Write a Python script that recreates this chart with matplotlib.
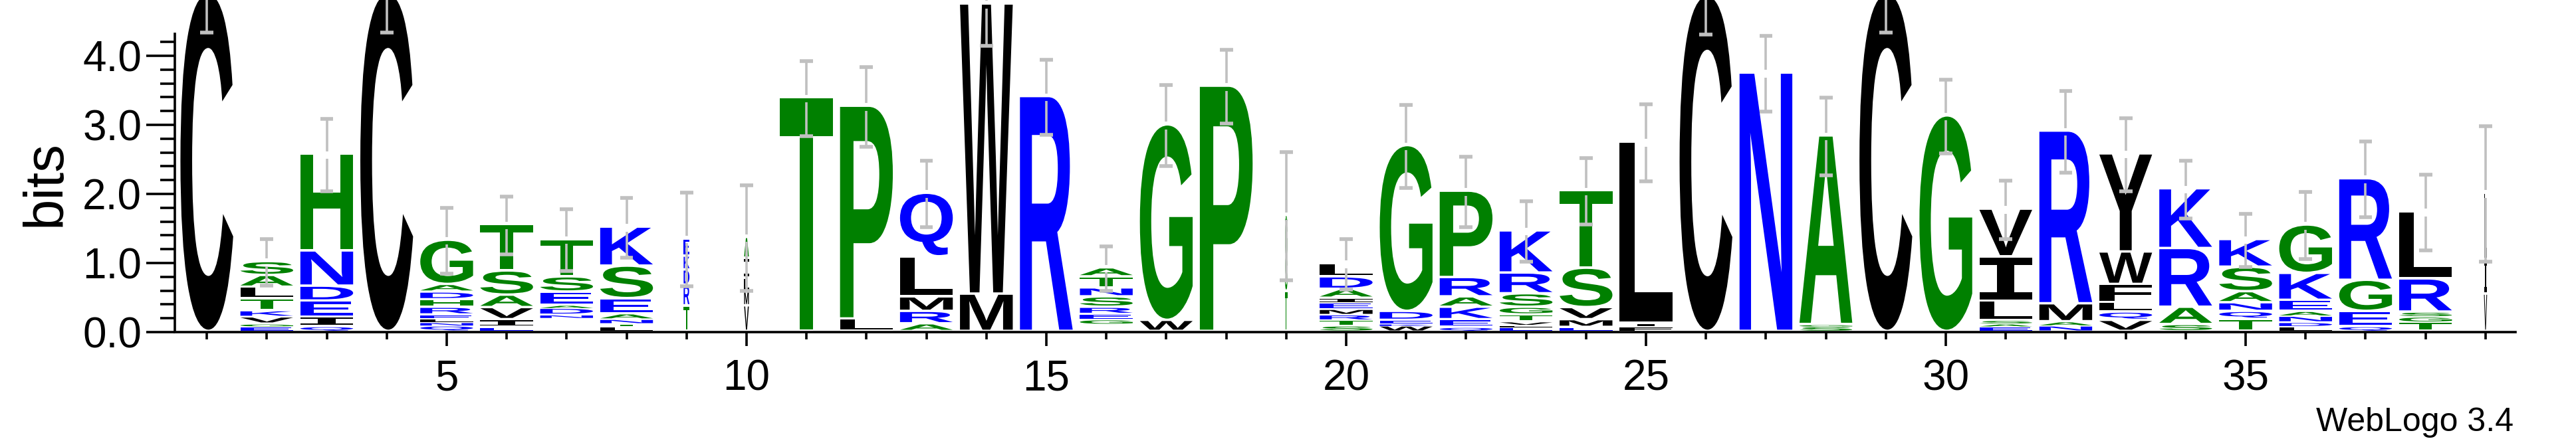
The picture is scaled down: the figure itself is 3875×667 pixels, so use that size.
import numpy as np
import matplotlib
matplotlib.use("Agg")
import matplotlib.pyplot as plt
from matplotlib.textpath import TextPath
from matplotlib.patches import PathPatch
from matplotlib.font_manager import FontProperties
from matplotlib.transforms import Affine2D

# sequence logo data: letters bottom -> top, heights in bits ('-' = empty gap)
positions = list(range(1, 40))
stack_letters = [
    "C", "EGVKTLAS", "QIEDNH", "C", "QNLERHDAG", "EIVAST", "-NDAEST", "LTNAESK",
    "TRDKE", "VMLIA", "T", "LP", "ARMLQ", "MW", "R", "-GERSNTA", "WG", "P",
    "TSGA", "STRMEIADL", "WKEDG", "QEKARP", "ELVTGSRK", "EMVST", "FIL", "C",
    "N", "SGA", "C", "G", "EASLIV", "NAMR", "VQLFWY", "SARK", "TQNASK",
    "LDNAEKG", "QEGR", "TGSRL", "VIL",
]
stack_heights = [
    [4.89],
    [0.07, 0.04, 0.10, 0.09, 0.17, 0.17, 0.17, 0.20],
    [0.07, 0.14, 0.23, 0.215, 0.51, 1.40],
    [4.89],
    [0.08, 0.05, 0.05, 0.06, 0.11, 0.11, 0.11, 0.11, 0.64],
    [0.06, 0.11, 0.175, 0.18, 0.35, 0.67],
    [0.19, 0.05, 0.095, 0.045, 0.19, 0.22, 0.54],
    [0.07, 0.04, 0.065, 0.08, 0.22, 0.47, 0.565],
    [0.37, 0.30, 0.22, 0.20, 0.25],
    [0.37, 0.21, 0.19, 0.29, 0.30],
    [3.38],
    [0.18, 3.08],
    [0.11, 0.18, 0.21, 0.58, 0.92],
    [0.54, 4.20],
    [3.40],
    [0.10, 0.07, 0.08, 0.10, 0.15, 0.13, 0.16, 0.13],
    [0.16, 2.83],
    [3.55],
    [0.58, 0.50, 0.50, 0.10],
    [0.08, 0.08, 0.08, 0.08, 0.095, 0.065, 0.13, 0.18, 0.19],
    [0.08, 0.03, 0.05, 0.13, 2.40],
    [0.06, 0.11, 0.18, 0.15, 0.28, 1.25],
    [0.06, 0.03, 0.05, 0.10, 0.11, 0.195, 0.30, 0.61],
    [0.06, 0.11, 0.175, 0.57, 1.12],
    [0.07, 0.05, 2.62],
    [4.86],
    [3.74],
    [0.07, 0.03, 2.73],
    [4.89],
    [3.12],
    [0.07, 0.04, 0.05, 0.28, 0.64, 0.69],
    [0.08, 0.06, 0.26, 2.50],
    [0.16, 0.12, 0.14, 0.26, 0.47, 1.42],
    [0.10, 0.25, 0.85, 0.865],
    [0.175, 0.115, 0.125, 0.16, 0.355, 0.40],
    [0.07, 0.06, 0.09, 0.07, 0.16, 0.39, 0.70],
    [0.07, 0.22, 0.45, 1.47],
    [0.13, 0.08, 0.07, 0.48, 0.97],
    [0.54, 0.50, 0.96],
]
# column width as fraction of full width (few sequences -> narrow)
stack_widths = [1.0] * 39
stack_widths[8] = 0.11
stack_widths[9] = 0.09
stack_widths[18] = 0.045
stack_widths[38] = 0.06
error_half = [
    0.55, 0.335, 0.525, 0.55, 0.475, 0.42, 0.45, 0.435, 0.68, 0.765,
    0.54, 0.58, 0.48, 0.60, 0.545, 0.32, 0.59, 0.535, 0.93, 0.365,
    0.60, 0.51, 0.435, 0.48, 0.555, 0.55, 0.55, 0.565, 0.55, 0.535,
    0.425, 0.59, 0.53, 0.42, 0.385, 0.485, 0.545, 0.545, 0.98,
]

colors = {}
for c in "RKDENQ":
    colors[c] = "#0000ff"
for c in "SGHTAP":
    colors[c] = "#008000"
for c in "YVMCLFIW":
    colors[c] = "#000000"

bold = FontProperties(family="Liberation Sans", weight="bold")
mono = FontProperties(family="DejaVu Sans Mono", weight="bold")


def draw_letter(ax, ch, x, y, w, h):
    prop = mono if ch == "I" else bold
    tp = TextPath((0, 0), ch, size=1, prop=prop)
    bb = tp.get_extents()
    tr = Affine2D().translate(-bb.x0, -bb.y0).scale(w / bb.width, h / bb.height).translate(x - w / 2, y)
    ax.add_patch(PathPatch(tr.transform_path(tp), fc=colors[ch], ec="none",
                           lw=0, clip_on=False, zorder=2))


fig = plt.figure(figsize=(38.75, 6.67), dpi=100)
ax = fig.add_axes([266 / 3875, 167 / 667, 3518 / 3875, 4.32 * 104 / 667])

full_w = 0.88
for pos, letters, heights, wf, err in zip(positions, stack_letters, stack_heights,
                                          stack_widths, error_half):
    y = 0.0
    w = full_w * wf
    for ch, h in zip(letters, heights):
        if ch != "-":
            gap = min(0.035, 0.3 * h)
            draw_letter(ax, ch, pos, y + gap, w, h - gap)
        y += h
    top = y
    g = 0.055
    kw = dict(color="#c0c0c0", lw=2.6, solid_capstyle="butt", clip_on=False, zorder=3)
    ax.plot([pos, pos], [top + g, top + err], **kw)
    ax.plot([pos, pos], [top - err, top - g], **kw)
    for yy in (top + err, top - err):
        ax.plot([pos - 0.11, pos + 0.11], [yy, yy], **{**kw, "lw": 4})

ax.set_xlim(0.5, 39.5)
ax.set_ylim(0, 4.32)
for s in ("top", "right"):
    ax.spines[s].set_visible(False)
ax.spines["left"].set_position(("outward", 2))
for s in ("left", "bottom"):
    ax.spines[s].set_linewidth(2.6)

ax.set_yticks([0, 1, 2, 3, 4])
ax.set_yticklabels(["0.0", "1.0", "2.0", "3.0", "4.0"])
ax.set_yticks(np.arange(0, 4.3, 0.2), minor=True)
ax.set_xticks([5, 10, 15, 20, 25, 30, 35])
ax.set_xticks(positions, minor=True)
ax.tick_params(axis="y", which="major", length=31, width=2.6, pad=5, labelsize=46)
ax.tick_params(axis="y", which="minor", length=16, width=2.6)
ax.tick_params(axis="x", which="major", length=15, width=2.6, pad=14, labelsize=46)
ax.tick_params(axis="x", which="minor", length=8, width=2.6)
for lab in ax.get_xticklabels() + ax.get_yticklabels():
    lab.set_fontfamily("Liberation Sans")

fig.text(69 / 3875, (667 - 276) / 667, "bits", rotation=90, ha="center", va="center",
         fontsize=60, family="Liberation Sans")
fig.text(3781 / 3875, 18 / 667, "WebLogo 3.4", ha="right", va="baseline",
         fontsize=36, family="Liberation Sans")

fig.savefig("out.png", dpi=100)
